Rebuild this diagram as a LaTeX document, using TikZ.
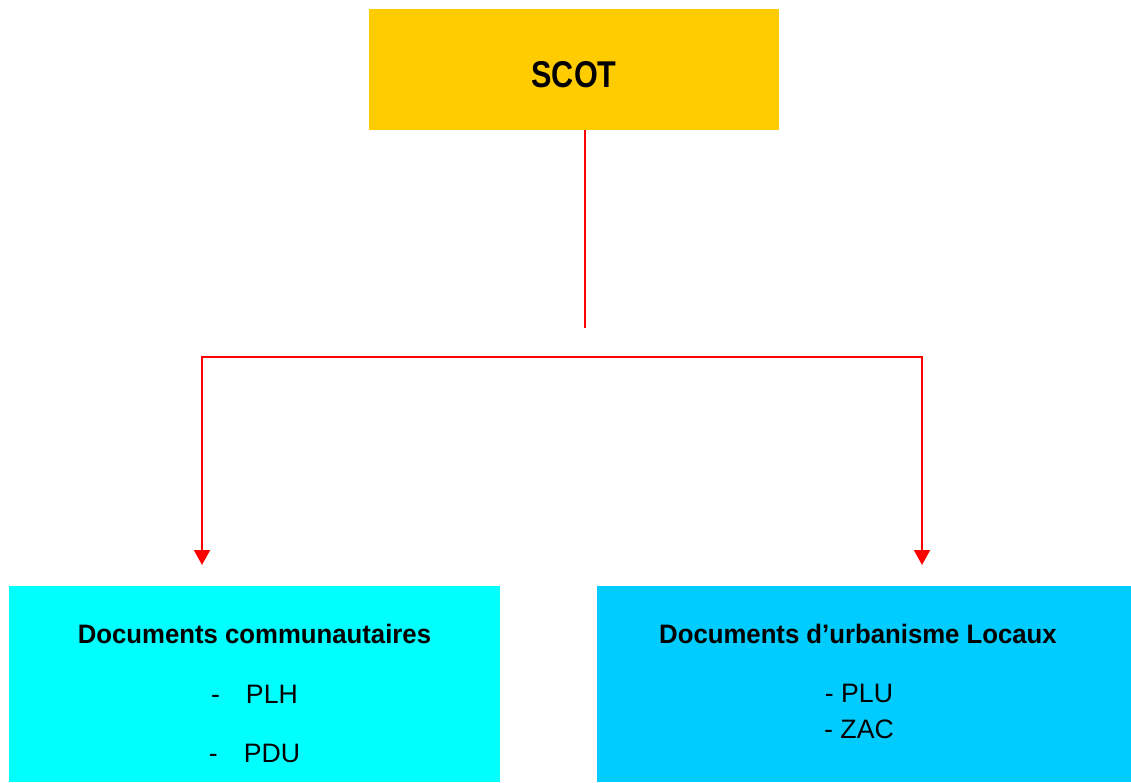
\documentclass[tikz,border=0pt]{standalone}
\usepackage{fontspec}
\setmainfont{Liberation Sans}
\newfontfamily\narrowfont{Liberation Sans}[FakeStretch=0.82]
\newfontfamily\headfont{Liberation Sans}[FakeStretch=0.965]
\usetikzlibrary{arrows.meta,positioning}
\definecolor{scotGold}{HTML}{FFCC00}
\definecolor{commCyan}{HTML}{00FFFF}
\definecolor{urbaBlue}{HTML}{00CCFF}
\definecolor{linkRed}{HTML}{FF0000}
\tikzset{
    box/.style={inner sep=0pt, outer sep=0pt, draw=none},
    heading/.style={anchor=base, font=\fontsize{26.67}{32}\selectfont\headfont\bfseries, inner sep=0pt},
    item/.style={anchor=base, font=\fontsize{26.67}{32}\selectfont, inner sep=0pt},
    link/.style={line width=2pt, draw=linkRed},
    linkarrow/.style={{Triangle[width=16pt,length=15pt]}-{Triangle[width=16pt,length=15pt]}, line width=2pt, draw=linkRed}
}
\begin{document}
\begin{tikzpicture}[x=1pt,y=-1pt]
\useasboundingbox (0,0) rectangle (1131,782);
\node[box, fill=scotGold, minimum width=410pt, minimum height=121pt] (scot) at (574,69.5) {};
\node[box, fill=commCyan, minimum width=491pt, minimum height=196pt] (comm) at (254.5,684) {};
\node[box, fill=urbaBlue, minimum width=534pt, minimum height=196pt] (urba) at (864,684) {};
\node[anchor=base, inner sep=0pt, font=\fontsize{37.3}{44}\selectfont\narrowfont\bfseries] (scottxt) at (574,87) {SCOT};
\node[heading] (commtitle) at (254.5,643) {Documents communautaires};
\node[item] (plh) at (254.5,703) {-\hspace{26pt}PLH};
\node[item] (pdu) at (254.5,762) {-\hspace{26pt}PDU};
\node[heading] (urbatitle) at (858,643) {Documents d’urbanisme Locaux};
\node[item] (plu) at (859,702) {- PLU};
\node[item] (zac) at (859,738) {- ZAC};
\coordinate (stem) at (584.5,328);
\coordinate (joinL) at (202,357);
\coordinate (joinR) at (922,357);
\coordinate (tipL) at (202,565);
\coordinate (tipR) at (922,565);
\draw[link] (stem |- scot.south) -- (stem);
\draw[linkarrow] (tipL) -- (joinL) -- (joinR) -- (tipR);
\end{tikzpicture}
\end{document}
